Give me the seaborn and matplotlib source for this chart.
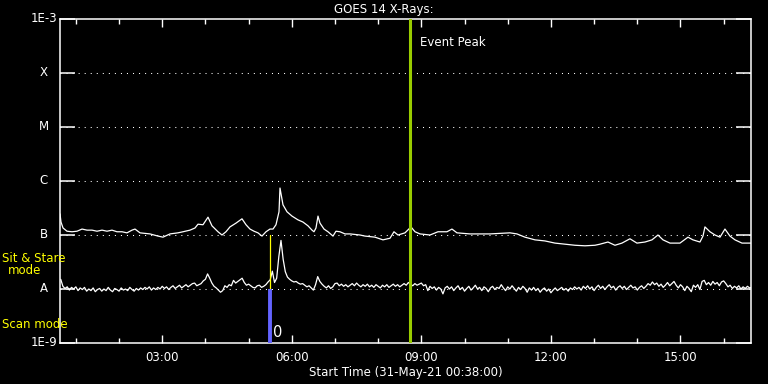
import numpy as np
import pandas as pd
import matplotlib
matplotlib.use("Agg")
import matplotlib.pyplot as plt
import matplotlib.transforms as mtransforms
import seaborn as sns

# ---------------- data ----------------
title = "GOES 14 X-Rays:"
xlabel = "Start Time (31-May-21 00:38:00)"
start_hour = 0.633   # 00:38
end_hour = 16.633
xtick_hours = [3, 6, 9, 12, 15]
xtick_labels = ["03:00", "06:00", "09:00", "12:00", "15:00"]
level_flux = [1e-8, 1e-7, 1e-6, 1e-5, 1e-4]
level_labels = ["A", "B", "C", "M", "X"]
event_peak_hour = 8.73
sit_stare_hour = 5.49

# long channel (upper curve), hours of day and log10 flux (W/m^2)
upper_time = [0.633, 0.656, 0.703, 0.795, 0.911, 1.027, 1.143, 1.258, 1.374, 1.490,
              1.606, 1.721, 1.837, 1.953, 2.069, 2.184, 2.300, 2.370, 2.485, 2.717,
              2.902, 3.018, 3.180, 3.365, 3.481, 3.643, 3.759, 3.828, 3.944, 4.060,
              4.152, 4.291, 4.384, 4.476, 4.569, 4.708, 4.847, 4.940, 5.032, 5.125,
              5.217, 5.310, 5.403, 5.495, 5.565, 5.634, 5.704, 5.727, 5.796, 5.889,
              6.005, 6.144, 6.259, 6.375, 6.468, 6.514, 6.560, 6.607, 6.653, 6.746,
              6.838, 6.954, 7.023, 7.116, 7.232, 7.348, 7.579, 7.694, 7.926, 8.111,
              8.274, 8.366, 8.459, 8.621, 8.760, 8.853, 8.968, 9.200, 9.385, 9.593,
              9.709, 9.825, 10.126, 10.589, 11.052, 11.214, 11.399, 11.631, 11.862, 12.094,
              12.326, 12.557, 12.789, 13.020, 13.136, 13.321, 13.483, 13.645, 13.830, 13.992,
              14.178, 14.340, 14.479, 14.595, 14.757, 14.988, 15.174, 15.289, 15.451, 15.521,
              15.567, 15.683, 15.799, 15.915, 16.030, 16.146, 16.262, 16.424, 16.632]
upper_log = [-6.61, -6.76, -6.87, -6.93, -6.94, -6.93, -6.89, -6.91, -6.91, -6.93,
             -6.91, -6.93, -6.91, -6.94, -6.94, -6.96, -6.91, -6.89, -6.96, -6.98,
             -7.02, -7.04, -6.98, -6.96, -6.94, -6.91, -6.87, -6.80, -6.81, -6.67,
             -6.83, -6.94, -7.00, -6.94, -6.85, -6.78, -6.70, -6.81, -6.89, -6.93,
             -6.96, -7.02, -6.94, -6.89, -6.89, -6.81, -6.57, -6.13, -6.44, -6.57,
             -6.65, -6.72, -6.76, -6.83, -6.91, -6.94, -6.87, -6.65, -6.78, -6.89,
             -6.94, -7.02, -6.93, -6.94, -6.98, -6.98, -7.00, -7.02, -7.04, -7.09,
             -7.06, -6.94, -7.00, -6.96, -6.85, -6.94, -6.98, -7.00, -6.94, -6.94,
             -6.89, -6.96, -6.98, -6.98, -6.96, -6.98, -7.04, -7.09, -7.11, -7.15,
             -7.17, -7.19, -7.20, -7.19, -7.17, -7.13, -7.19, -7.15, -7.07, -7.15,
             -7.13, -7.09, -7.00, -7.09, -7.15, -7.15, -7.04, -7.09, -7.13, -7.02,
             -6.85, -6.94, -7.00, -7.04, -6.89, -7.02, -7.09, -7.15, -7.15]

# short channel (lower curve), 3-minute cadence from 00:39, log10 flux
lower_start = 0.65
lower_step = 0.05
lower_log = [
    -7.82, -7.95, -7.99, -7.96, -8.02, -7.97, -8.00, -7.96, -8.03, -7.98, -8.01, -7.97, -8.04, -8.00, -8.03, -7.98, -8.05, -8.01, -7.99, -8.04,
    -8.00, -8.03, -7.97, -8.02, -8.05, -7.99, -8.01, -8.04, -7.98, -8.02, -8.00, -8.03, -7.97, -8.01, -8.04, -7.99, -8.02, -7.98, -8.01, -7.97,
    -8.00, -7.96, -8.02, -7.98, -8.01, -7.97, -8.00, -7.95, -7.99, -7.96, -8.01, -7.97, -7.94, -7.99, -7.96, -7.93, -7.98, -7.95, -7.92, -7.96,
    -7.93, -7.90, -7.89, -7.94, -7.92, -7.90, -7.85, -7.82, -7.72, -7.80, -7.89, -7.95, -7.98, -8.02, -8.06, -8.03, -7.94, -7.97, -7.92, -7.94,
    -7.84, -7.89, -7.86, -7.83, -7.80, -7.88, -7.93, -7.91, -7.94, -7.97, -7.98, -7.94, -7.93, -7.97, -7.95, -7.92, -7.87, -7.83, -7.67, -7.88,
    -7.80, -7.40, -7.10, -7.45, -7.68, -7.78, -7.82, -7.85, -7.87, -7.86, -7.89, -7.91, -7.90, -7.93, -7.96, -7.94, -7.98, -8.02, -7.92, -7.77,
    -7.86, -7.91, -7.95, -7.98, -7.94, -7.99, -7.96, -7.90, -7.89, -7.94, -7.91, -7.95, -7.92, -7.96, -7.93, -7.90, -7.94, -7.89, -7.93, -7.96,
    -7.92, -7.95, -7.91, -7.96, -7.93, -7.97, -7.92, -7.95, -7.98, -7.93, -7.96, -7.92, -7.97, -7.94, -7.91, -7.95, -7.92, -7.96, -7.93, -7.90,
    -7.93, -7.88, -7.91, -7.94, -7.90, -7.93, -7.91, -7.89, -7.94, -7.92, -8.03, -7.95, -7.99, -7.96, -8.02, -7.97, -8.00, -8.09, -7.98, -7.95,
    -8.00, -7.96, -8.03, -7.98, -7.94, -8.01, -7.97, -8.04, -7.99, -7.95, -8.02, -7.98, -7.93, -8.00, -7.97, -8.03, -7.96, -7.99, -8.05, -7.98,
    -7.95, -8.01, -7.97, -7.99, -7.92, -7.98, -8.03, -7.96, -8.00, -7.94, -7.99, -8.04, -7.97, -8.01, -7.95, -7.99, -8.06, -7.98, -8.02, -7.97,
    -8.03, -7.99, -8.06, -8.01, -7.98, -8.04, -8.00, -8.07, -8.02, -7.98, -8.03, -8.00, -7.97, -8.02, -7.99, -8.04, -7.98, -8.01, -7.96, -8.00,
    -7.97, -8.02, -7.95, -7.99, -7.94, -8.00, -7.96, -8.03, -7.97, -7.93, -7.99, -7.95, -8.01, -7.96, -7.92, -7.98, -7.95, -8.02, -7.97, -7.94,
    -7.99, -7.95, -8.01, -7.97, -7.93, -7.98, -7.96, -8.02, -7.97, -7.94, -7.99, -7.95, -7.90, -7.93, -7.87, -7.92, -7.89, -7.95, -7.91, -7.97,
    -7.93, -7.88, -7.94, -7.90, -7.86, -7.93, -7.98, -7.92, -7.96, -8.03, -7.95, -7.99, -8.05, -7.93, -7.97, -7.92, -8.01, -7.86, -7.84, -7.92,
    -7.88, -7.93, -7.86, -7.91, -7.88, -7.94, -7.87, -7.85, -7.90, -7.96, -7.93, -7.99, -7.95, -7.98, -7.94, -8.00, -7.96, -7.99, -7.95, -7.98,
    -7.97,
]
lower_time = np.round(lower_start + lower_step * np.arange(len(lower_log)), 3)

upper_df = pd.DataFrame({"hour": upper_time, "flux": np.power(10.0, upper_log)})
lower_df = pd.DataFrame({"hour": lower_time, "flux": np.power(10.0, lower_log)})

# ---------------- figure ----------------
sns.set_style("dark")
plt.rcParams["font.family"] = ["DejaVu Sans"]
W, H = 768, 384
fig = plt.figure(figsize=(W / 100, H / 100), dpi=100, facecolor="black")
ax = fig.add_axes([60 / W, (H - 343) / H, (751 - 60) / W, (343 - 19) / H])
ax.set_facecolor("black")
ax.grid(False)

ax.set_yscale("log")
ax.set_ylim(1e-9, 1e-3)
ax.set_xlim(start_hour, end_hour)

# dotted class level lines
for lv in level_flux:
    ax.axhline(lv, color="white", linewidth=0.75, linestyle=(0, (1, 4.8)), zorder=1)

sns.lineplot(data=upper_df, x="hour", y="flux", ax=ax, color="white",
             linewidth=0.9, estimator=None, sort=False, zorder=3)
sns.lineplot(data=lower_df, x="hour", y="flux", ax=ax, color="white",
             linewidth=0.9, estimator=None, sort=False, zorder=3)

# event peak
ax.axvline(event_peak_hour, color="#99cc00", linewidth=2.2, zorder=4)
ax.text(event_peak_hour + 0.25, 10 ** -3.44, "Event Peak", color="white",
        fontsize=8.5, ha="left", va="center")

# sit & stare / scan markers
ax.plot([sit_stare_hour, sit_stare_hour], [1e-8, 1e-7], color="#ffff00", linewidth=0.9, zorder=4)
ax.plot([sit_stare_hour, sit_stare_hour], [1e-9, 1e-8], color="#6464ff", linewidth=2.8,
        solid_capstyle="butt", zorder=4)
ax.text(sit_stare_hour + 0.08, 10 ** -8.80, "0", color="white", fontsize=10.5,
        ha="left", va="center")

# spines and ticks
for s in ax.spines.values():
    s.set_color("white")
    s.set_linewidth(1.1)
ax.set_xticks(xtick_hours)
ax.set_xticklabels(xtick_labels, color="white", fontsize=8.5)
ax.set_xticks(list(range(1, 17)), minor=True)
ax.tick_params(axis="x", which="major", direction="in", length=6, width=1, color="white",
               top=True, bottom=True, pad=6)
ax.tick_params(axis="x", which="minor", direction="in", length=3.5, width=1, color="white",
               top=True, bottom=True)
ax.set_yticks([1e-9, 1e-8, 1e-7, 1e-6, 1e-5, 1e-4, 1e-3])
ax.set_yticklabels([])
ax.yaxis.set_minor_locator(matplotlib.ticker.NullLocator())
ax.tick_params(axis="y", which="major", direction="in", length=10.5, width=1.1,
               color="white", left=True, right=True)
ax.set_xlabel(xlabel, color="white", fontsize=8.5, labelpad=1)
ax.set_ylabel("")

trans = mtransforms.blended_transform_factory(fig.transFigure, ax.transData)
ax.text(57 / W, 1e-3, "1E-3", transform=trans, color="white", fontsize=8.5,
        ha="right", va="center")
ax.text(57 / W, 1e-9, "1E-9", transform=trans, color="white", fontsize=8.5,
        ha="right", va="center")
for lv, lab in zip(level_flux, level_labels):
    ax.text(44 / W, lv, lab, transform=trans, color="white", fontsize=8.5,
            ha="center", va="center")

fig.text(0.5, 1 - 9 / H, title, color="white", fontsize=8.5, ha="center", va="center")
fig.text(2 / W, 1 - 258 / H, "Sit & Stare", color="#ffff00", fontsize=8.5,
         ha="left", va="center")
fig.text(25 / W, 1 - 271 / H, "mode", color="#ffff00", fontsize=8.5,
         ha="center", va="center")
fig.text(2 / W, 1 - 324 / H, "Scan mode", color="#ffff00", fontsize=8.5,
         ha="left", va="center")

fig.savefig("out.png", dpi=100, facecolor="black")
